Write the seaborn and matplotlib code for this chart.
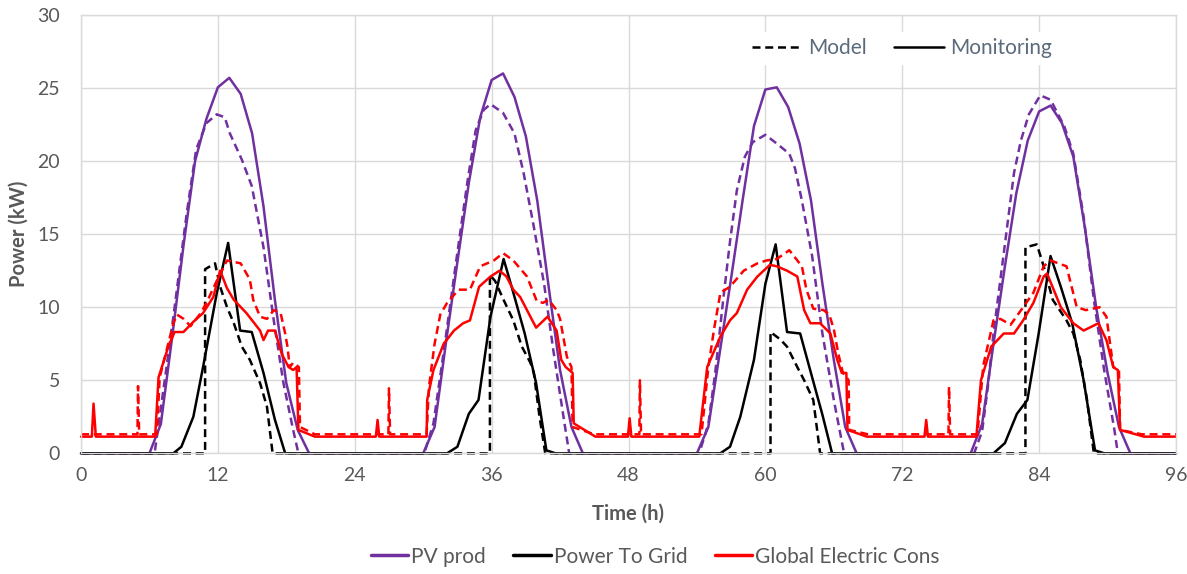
import matplotlib
matplotlib.use("Agg")
import matplotlib.pyplot as plt
import seaborn as sns
from matplotlib.lines import Line2D

# ---------------- data ----------------
pv_mon_t = [0, 6, 7, 8, 9, 10, 11, 12, 13, 14, 15, 16, 17, 18, 19, 20,
            30, 31, 32, 33, 34, 35, 36, 37, 38, 39, 40, 41, 42, 43, 44,
            54, 55, 56, 57, 58, 59, 60, 61, 62, 63, 64, 65, 66, 67, 68,
            78, 79, 80, 81, 82, 83, 84, 85, 86, 87, 88, 89, 90, 91, 92, 96]
pv_mon_v = [0, 0, 2.0, 8.0, 14.3, 20.0, 22.9, 25.05, 25.7, 24.6, 21.9, 16.9, 10.5, 4.8, 1.6, 0,
            0, 1.8, 7.6, 13.1, 18.5, 23.0, 25.55, 26.0, 24.4, 21.7, 17.3, 11.4, 5.7, 1.8, 0,
            0, 1.8, 6.9, 12.0, 17.3, 22.4, 24.9, 25.05, 23.7, 21.2, 17.3, 11.6, 6.4, 1.8, 0,
            0, 2.0, 7.5, 12.8, 17.8, 21.4, 23.4, 23.8, 22.6, 20.3, 15.5, 10.0, 5.5, 1.8, 0, 0]

pv_mod_t = [0, 6.45, 6.93, 7.5, 8.1, 8.7, 9.3, 10.1, 11.0, 11.9, 12.6, 13.05, 14.1, 14.97, 16.0, 16.9, 17.75, 18.6, 19.06,
            30.1, 30.9, 31.9, 32.9, 33.9, 34.6, 35.3, 35.9, 37.0, 38.0, 38.8, 39.7, 40.6, 41.4, 42.3, 42.8,
            54.2, 55.0, 55.6, 56.3, 56.9, 57.5, 58.2, 58.9, 60.0, 61.0, 62.1, 62.6, 63.2, 64.1, 65.0, 66.0, 66.9,
            78.3, 79.0, 79.5, 80.0, 80.9, 81.8, 82.4, 83.1, 84.1, 85.0, 86.2, 87.0, 87.9, 88.8, 89.7, 90.6, 90.9, 96]
pv_mod_v = [0, 0, 2.7, 5.9, 9.35, 13.0, 16.6, 20.8, 22.6, 23.2, 23.0, 21.9, 20.1, 18.3, 14.1, 9.1, 4.8, 1.6, 0,
            0, 2.05, 7.5, 13.2, 18.7, 22.1, 23.5, 23.9, 23.3, 21.9, 19.2, 15.5, 11.6, 7.1, 2.5, 0,
            0, 2.0, 5.5, 10.5, 14.5, 18.0, 20.3, 21.3, 21.8, 21.2, 20.5, 19.5, 17.3, 13.5, 8.2, 3.65, 0,
            0, 1.5, 4.5, 8.2, 13.7, 19.2, 21.4, 23.2, 24.5, 24.2, 22.4, 20.5, 16.2, 10.5, 5.7, 1.6, 0, 0]

grid_mon_t = [0, 8.1, 8.8, 9.85, 10.7, 11.9, 12.9, 13.95, 14.97, 16.0, 17.0, 17.9,
              32.1, 33.0, 34.0, 34.85, 35.9, 37.05, 37.9, 38.9, 39.9, 40.8, 41.6,
              56.05, 56.9, 57.8, 59.0, 60.0, 60.9, 61.9, 63.05, 64.1, 64.98, 65.85,
              80.0, 81.0, 82.05, 82.97, 83.96, 85.0, 85.9, 86.9, 87.9, 88.9, 89.7, 96]
grid_mon_v = [0, 0, 0.45, 2.5, 5.9, 10.95, 14.4, 8.4, 8.3, 5.5, 2.3, 0,
              0, 0.45, 2.7, 3.65, 9.35, 13.3, 11.0, 8.2, 4.8, 0.2, 0,
              0, 0.45, 2.5, 6.4, 11.6, 14.3, 8.3, 8.2, 5.2, 2.7, 0,
              0, 0.7, 2.7, 3.65, 8.2, 13.5, 11.4, 8.9, 5.0, 0.2, 0, 0]

grid_mod_t = [0, 10.88, 10.88, 11.75, 12.2, 12.8, 13.4, 14.1, 14.8, 15.7, 16.3, 16.8,
              35.85, 35.85, 36.3, 37.05, 37.9, 38.65, 39.4, 39.7, 40.2, 40.7,
              60.45, 60.45, 61.3, 61.9, 62.8, 63.4, 64.2, 64.8,
              82.8, 82.8, 83.8, 84.4, 85.2, 86.4, 87.0, 87.6, 88.2, 88.8, 96]
grid_mod_v = [0, 0, 12.6, 13.0, 11.4, 10.0, 8.9, 7.3, 6.4, 4.8, 3.2, 0,
              0, 12.2, 11.8, 10.5, 9.1, 7.3, 6.2, 5.5, 2.5, 0,
              0, 8.3, 7.8, 7.3, 5.9, 5.0, 3.65, 0,
              0, 14.1, 14.3, 12.8, 10.5, 9.1, 8.2, 6.4, 3.65, 0, 0]

cons_mon_t = [0, 0.95, 1.1, 1.3, 6.5, 6.8, 7.66, 8.2, 8.98, 9.85, 10.7, 11.6, 12.2, 12.8, 13.4, 14.5, 15.7,
              16.0, 16.4, 17.0, 17.6, 18.2, 18.6, 18.9, 19.06, 20.5,
              25.85, 26.0, 26.15, 30.3, 30.35, 30.9, 31.8, 32.7, 33.5, 34.1, 34.9, 35.9, 36.7, 37.3, 37.9,
              38.5, 39.9, 40.9, 41.7, 42.1, 42.5, 43.1, 43.2, 45.1,
              47.95, 48.1, 48.25, 54.2, 54.9, 56.06, 56.9, 57.5, 58.4, 59.3, 60.4, 61.0, 61.9, 62.8, 63.4,
              63.95, 64.8, 65.7, 66.3, 66.7, 67.1, 67.2, 68.9,
              73.95, 74.1, 74.25, 78.5, 78.9, 79.8, 80.9, 81.8, 82.6, 83.5, 84.4, 84.7, 85.9, 87.0, 87.9,
              89.2, 89.9, 90.5, 90.9, 91.1, 93.2, 96]
cons_mon_v = [1.14, 1.14, 3.4, 1.14, 1.14, 5.2, 7.3, 8.3, 8.3, 9.0, 9.6, 10.7, 12.5, 11.3, 10.5, 9.6, 8.4,
              7.75, 8.4, 8.4, 6.8, 5.9, 5.7, 5.9, 1.6, 1.14,
              1.14, 2.28, 1.14, 1.14, 3.65, 5.7, 7.5, 8.4, 8.9, 9.1, 11.4, 12.1, 12.5, 12.1, 11.2,
              10.7, 8.6, 9.35, 8.4, 6.4, 5.9, 5.5, 2.05, 1.14,
              1.14, 2.4, 1.14, 1.14, 5.9, 8.0, 9.1, 9.6, 11.2, 12.1, 12.9, 12.8, 12.5, 12.1, 9.8,
              8.9, 8.9, 8.2, 6.4, 5.5, 5.5, 1.6, 1.14,
              1.14, 2.28, 1.14, 1.14, 5.0, 7.3, 8.2, 8.2, 9.1, 10.3, 12.1, 12.3, 10.0, 8.9, 8.4,
              8.9, 7.75, 5.9, 5.7, 1.6, 1.14, 1.14]

cons_mod_t = [0, 4.95, 5.0, 5.1, 6.65, 6.9, 8.1, 8.4, 9.0, 9.6, 10.5, 11.0, 11.9, 12.8, 14.0, 14.8, 15.1,
              15.7, 16.3, 16.9, 17.5, 17.9, 18.1, 18.3, 18.6, 19.1, 19.2, 20.5,
              26.95, 27.0, 27.1, 30.3, 30.5, 31.0, 31.5, 32.1, 33.1, 34.1, 35.0, 36.2, 37.0, 37.9, 39.1,
              39.97, 40.5, 41.0, 41.7, 42.0, 42.6, 43.0, 43.1, 45.0,
              48.95, 49.0, 49.1, 54.4, 55.0, 55.5, 56.06, 56.9, 58.1, 59.3, 60.1, 61.0, 62.1, 63.2, 63.6,
              64.2, 65.1, 65.6, 66.0, 66.4, 66.8, 67.3, 67.35, 69.0,
              76.05, 76.1, 76.2, 78.6, 79.1, 80.0, 80.6, 81.5, 82.6, 83.5, 84.4, 85.0, 86.4, 87.3, 88.1,
              89.3, 89.9, 90.5, 91.0, 91.1, 93.0, 96]
cons_mod_v = [1.3, 1.3, 4.6, 1.3, 1.3, 5.2, 8.9, 9.5, 9.2, 8.7, 9.6, 10.3, 11.8, 13.2, 13.0, 11.9, 10.5,
              9.35, 9.2, 9.8, 9.6, 8.2, 7.3, 5.9, 6.2, 5.9, 1.8, 1.3,
              1.3, 4.45, 1.3, 1.3, 4.5, 7.5, 9.5, 10.3, 11.2, 11.2, 12.8, 13.2, 13.7, 13.2, 12.1,
              10.4, 10.3, 10.5, 9.8, 9.2, 6.6, 5.9, 1.8, 1.3,
              1.3, 5.0, 1.3, 1.3, 5.9, 8.5, 11.0, 11.4, 12.5, 13.0, 13.2, 13.3, 13.9, 12.8, 11.2,
              9.9, 9.8, 9.5, 8.5, 6.8, 5.5, 5.0, 1.6, 1.3,
              1.3, 4.55, 1.3, 1.3, 6.0, 9.1, 9.2, 8.8, 10.0, 11.0, 12.8, 13.2, 12.8, 10.0, 9.8,
              10.0, 9.35, 5.9, 5.7, 1.6, 1.3, 1.3]

x_ticks = [0, 12, 24, 36, 48, 60, 72, 84, 96]
y_ticks = [0, 5, 10, 15, 20, 25, 30]
series_names = ["PV prod", "Power To Grid", "Global Electric Cons"]
kind_names = ["Model", "Monitoring"]

# ---------------- style ----------------
sns.set_style("white")
plt.rcParams["font.family"] = ["Lato", "DejaVu Sans"]

PURPLE = "#7030a0"
BLACK = "#000000"
RED = "#ff0000"
GRAY_TXT = "#595959"
GRID = "#d9d9d9"
DASH = (0, (3.2, 1.9))
LW = 1.8

fig = plt.figure(figsize=(11.87, 5.74), dpi=100)
ax = fig.add_axes([81 / 1187, 1 - 453.3 / 574, 1095 / 1187, 438.3 / 574])

series = [
    (pv_mod_t, pv_mod_v, PURPLE, DASH),
    (pv_mon_t, pv_mon_v, PURPLE, "-"),
    (grid_mod_t, grid_mod_v, BLACK, DASH),
    (grid_mon_t, grid_mon_v, BLACK, "-"),
    (cons_mod_t, cons_mod_v, RED, DASH),
    (cons_mon_t, cons_mon_v, RED, "-"),
]
for t, v, c, ls in series:
    sns.lineplot(x=t, y=v, ax=ax, color=c, linestyle=ls, linewidth=LW,
                 estimator=None, sort=False, legend=False, clip_on=False)

ax.set_xlim(0, 96)
ax.set_ylim(0, 30)
ax.set_xticks(x_ticks)
ax.set_yticks(y_ticks)
ax.grid(True, color=GRID, linewidth=1.0)
ax.set_axisbelow(True)
for sp in ax.spines.values():
    sp.set_color(GRID)
    sp.set_linewidth(1.0)
ax.tick_params(axis="both", length=0, labelsize=14, labelcolor=GRAY_TXT)
ax.tick_params(axis="x", pad=10)
ax.tick_params(axis="y", pad=15)
ax.set_xlabel("Time (h)", fontsize=14.5, fontweight="bold", color=GRAY_TXT, labelpad=14)
ax.set_ylabel("Power (kW)", fontsize=14.5, fontweight="bold", color=GRAY_TXT, labelpad=6)

# top legend (line style)
style_handles = [Line2D([], [], color=BLACK, linestyle=DASH, linewidth=LW),
                 Line2D([], [], color=BLACK, linestyle="-", linewidth=LW)]
leg1 = ax.legend(style_handles, kind_names, loc="center", bbox_to_anchor=(0.75, 0.925),
                 ncol=2, frameon=True, fontsize=15, handlelength=2.4, handletextpad=0.3,
                 columnspacing=1.3, borderpad=0.3, labelcolor="#5b6b7c")
leg1.get_frame().set_facecolor("white")
leg1.get_frame().set_edgecolor("white")
leg1.get_frame().set_alpha(1)

# bottom legend (series colour)
color_handles = [Line2D([], [], color=c, linewidth=2.5) for c in (PURPLE, BLACK, RED)]
fig.legend(color_handles, series_names, loc="center", bbox_to_anchor=(0.552, 0.03),
           ncol=3, frameon=False, fontsize=15, handlelength=1.8, handletextpad=0.15,
           columnspacing=1.3, labelcolor=GRAY_TXT)

fig.savefig("out.png", dpi=100)
